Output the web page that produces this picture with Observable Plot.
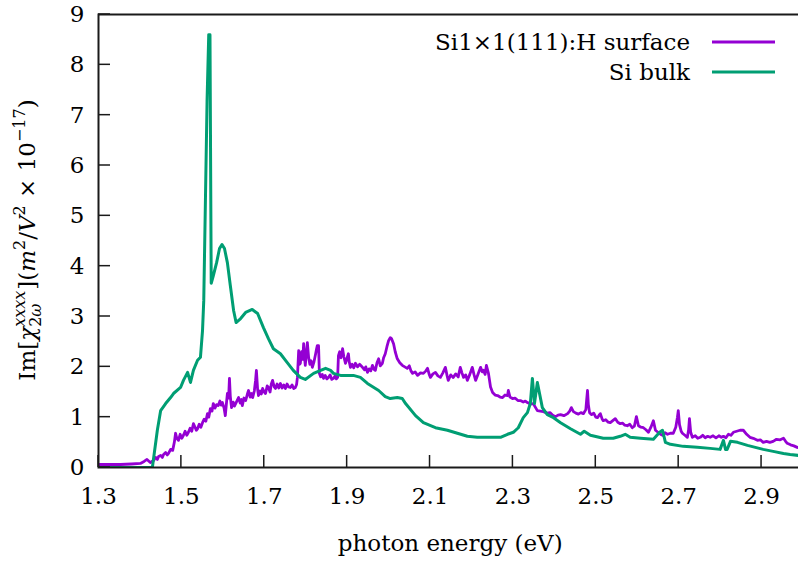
<!DOCTYPE html>
<html><head><meta charset="utf-8">
<script src="https://cdn.jsdelivr.net/npm/d3@7"></script>
<script src="https://cdn.jsdelivr.net/npm/@observablehq/plot@0.6"></script>
<style>body{margin:0;background:#fff} svg{display:block}</style>
</head><body><div id="chart"></div>
<script>
// ---- data ----
const seriesNames = ["Si1×1(111):H surface", "Si bulk"];
const seriesColors = ["#9400d3", "#009e73"];
const xTicks = [1.3, 1.5, 1.7, 1.9, 2.1, 2.3, 2.5, 2.7, 2.9];
const yTicks = [0, 1, 2, 3, 4, 5, 6, 7, 8, 9];
const xLabel = "photon energy (eV)";

const surfaceX = [1.300,1.353,1.380,1.401,1.410,1.417,1.425,1.433,1.438,1.442,1.445,1.450,1.454,1.457,1.462,1.466,1.469,1.474,1.479,1.483,1.486,1.489,1.493,1.497,1.501,1.505,1.509,1.513,1.517,1.521,1.525,1.529,1.533,1.536,1.539,1.543,1.547,1.551,1.555,1.559,1.563,1.566,1.570,1.574,1.577,1.581,1.585,1.589,1.593,1.596,1.599,1.603,1.606,1.609,1.611,1.614,1.616,1.618,1.621,1.625,1.628,1.631,1.635,1.638,1.642,1.645,1.647,1.651,1.655,1.659,1.662,1.666,1.669,1.672,1.676,1.679,1.681,1.684,1.686,1.690,1.693,1.696,1.700,1.703,1.707,1.710,1.714,1.717,1.720,1.724,1.727,1.731,1.735,1.739,1.743,1.747,1.751,1.755,1.759,1.763,1.767,1.771,1.775,1.778,1.780,1.783,1.785,1.787,1.790,1.793,1.795,1.797,1.799,1.802,1.804,1.807,1.810,1.813,1.816,1.820,1.824,1.826,1.828,1.831,1.833,1.836,1.840,1.843,1.847,1.851,1.855,1.859,1.863,1.867,1.871,1.874,1.877,1.879,1.882,1.885,1.889,1.892,1.896,1.899,1.903,1.905,1.908,1.912,1.916,1.920,1.925,1.930,1.937,1.942,1.945,1.949,1.953,1.957,1.961,1.965,1.968,1.972,1.976,1.980,1.985,1.988,1.992,1.996,2.000,2.004,2.007,2.012,2.016,2.021,2.027,2.033,2.039,2.045,2.050,2.054,2.058,2.064,2.070,2.077,2.084,2.090,2.094,2.098,2.101,2.107,2.113,2.119,2.125,2.131,2.137,2.141,2.144,2.150,2.156,2.162,2.168,2.173,2.177,2.181,2.186,2.190,2.196,2.202,2.206,2.210,2.216,2.222,2.226,2.229,2.233,2.236,2.241,2.246,2.251,2.257,2.263,2.269,2.275,2.281,2.287,2.289,2.293,2.299,2.305,2.312,2.318,2.325,2.330,2.335,2.342,2.349,2.354,2.359,2.366,2.374,2.382,2.390,2.396,2.403,2.409,2.415,2.423,2.432,2.437,2.441,2.446,2.452,2.458,2.464,2.470,2.476,2.478,2.480,2.482,2.485,2.490,2.495,2.500,2.504,2.508,2.511,2.515,2.518,2.524,2.530,2.535,2.541,2.547,2.553,2.559,2.565,2.570,2.576,2.582,2.588,2.593,2.598,2.603,2.609,2.615,2.621,2.627,2.633,2.639,2.644,2.650,2.656,2.661,2.667,2.673,2.680,2.687,2.693,2.697,2.699,2.702,2.706,2.709,2.715,2.721,2.724,2.726,2.729,2.733,2.740,2.746,2.752,2.758,2.764,2.770,2.776,2.783,2.790,2.797,2.803,2.808,2.814,2.820,2.826,2.832,2.840,2.848,2.856,2.864,2.872,2.880,2.890,2.897,2.904,2.912,2.920,2.928,2.936,2.945,2.953,2.958,2.962,2.970,2.978,2.986,3.000];
const surfaceY = [0.06,0.06,0.07,0.08,0.12,0.16,0.10,0.14,0.20,0.16,0.22,0.24,0.20,0.26,0.30,0.25,0.28,0.36,0.34,0.50,0.68,0.58,0.54,0.66,0.58,0.64,0.72,0.64,0.70,0.78,0.72,0.87,0.80,0.74,0.77,0.86,0.80,0.89,0.96,0.92,1.07,1.00,1.17,1.12,1.27,1.18,1.25,1.23,1.32,1.24,1.29,1.18,1.03,1.30,1.47,1.38,1.77,1.42,1.19,1.30,1.22,1.27,1.34,1.39,1.28,1.35,1.23,1.38,1.33,1.45,1.53,1.40,1.47,1.39,1.52,1.73,1.93,1.55,1.43,1.52,1.46,1.57,1.50,1.47,1.62,1.59,1.50,1.66,1.73,1.60,1.57,1.66,1.58,1.67,1.58,1.64,1.57,1.66,1.60,1.59,1.64,1.57,1.59,1.65,1.79,2.32,2.05,2.07,2.30,2.15,2.46,2.20,2.03,2.30,2.48,2.19,2.05,2.12,1.99,2.10,2.26,2.35,2.42,2.42,1.87,1.80,1.85,1.77,1.83,1.76,1.79,1.84,1.75,1.77,1.82,1.76,1.79,2.22,2.30,2.18,2.36,2.20,2.07,2.15,2.26,2.10,1.99,2.05,1.98,2.07,2.00,2.05,1.99,1.94,2.00,1.89,1.96,1.92,2.03,1.95,1.93,2.08,2.16,2.02,2.07,2.18,2.26,2.40,2.52,2.58,2.56,2.46,2.30,2.16,2.08,2.03,2.00,1.97,2.02,1.92,1.87,1.90,1.83,1.88,1.87,1.92,1.97,1.85,1.79,1.86,1.89,1.82,1.79,1.88,1.99,1.83,1.73,1.84,1.79,1.86,1.80,1.99,1.88,1.79,1.84,1.73,1.85,1.99,1.85,1.73,1.86,1.99,1.90,1.93,1.85,2.03,1.87,1.60,1.49,1.44,1.43,1.40,1.39,1.44,1.43,1.53,1.40,1.37,1.38,1.33,1.33,1.30,1.32,1.29,1.26,1.27,1.20,1.13,1.12,1.11,1.08,1.09,1.04,1.01,1.04,1.05,1.03,1.07,1.12,1.19,1.11,1.08,1.06,1.09,1.07,1.15,1.35,1.53,1.25,1.09,1.05,1.08,1.00,0.99,1.04,1.07,0.97,0.93,0.95,0.90,0.89,0.93,0.97,0.90,0.87,0.88,0.84,0.83,0.86,0.79,0.82,1.01,0.83,0.80,0.79,0.75,0.70,0.80,0.93,0.74,0.70,0.66,0.64,0.69,0.66,0.68,0.68,0.80,1.00,1.13,0.85,0.72,0.68,0.64,0.60,0.75,0.97,0.70,0.60,0.63,0.58,0.60,0.64,0.59,0.62,0.60,0.63,0.59,0.63,0.60,0.62,0.59,0.66,0.64,0.70,0.72,0.74,0.74,0.66,0.60,0.58,0.54,0.55,0.50,0.52,0.50,0.52,0.56,0.55,0.58,0.52,0.48,0.45,0.43,0.40,0.38];

const bulkX = [1.300,1.425,1.430,1.442,1.450,1.462,1.474,1.481,1.498,1.505,1.515,1.522,1.529,1.539,1.546,1.551,1.554,1.558,1.562,1.566,1.569,1.572,1.577,1.585,1.592,1.598,1.604,1.611,1.618,1.626,1.632,1.643,1.655,1.671,1.684,1.698,1.710,1.722,1.739,1.755,1.770,1.787,1.799,1.819,1.836,1.848,1.860,1.867,1.884,1.915,1.932,1.949,1.976,1.992,2.004,2.021,2.033,2.041,2.065,2.084,2.113,2.142,2.166,2.190,2.214,2.238,2.270,2.287,2.301,2.313,2.325,2.335,2.342,2.347,2.352,2.359,2.371,2.383,2.398,2.415,2.439,2.463,2.472,2.487,2.518,2.542,2.559,2.571,2.583,2.608,2.639,2.654,2.661,2.668,2.680,2.711,2.745,2.776,2.800,2.808,2.813,2.817,2.825,2.842,2.866,2.904,2.928,2.953,2.969,2.989,3.000];
const bulkY = [0,0,0,0.74,1.13,1.27,1.39,1.47,1.59,1.73,1.89,1.69,1.93,2.13,2.19,2.72,3.32,5.30,7.29,8.60,8.60,3.66,3.81,4.07,4.35,4.43,4.35,4.07,3.62,3.12,2.88,2.96,3.08,3.14,3.06,2.78,2.56,2.36,2.26,2.09,1.93,1.79,1.75,1.87,1.93,1.97,1.93,1.87,1.83,1.83,1.79,1.67,1.53,1.41,1.37,1.39,1.37,1.27,1.03,0.89,0.79,0.74,0.68,0.62,0.60,0.60,0.60,0.66,0.70,0.79,0.99,1.09,1.27,1.77,1.27,1.69,1.19,1.05,0.99,0.89,0.77,0.66,0.72,0.64,0.58,0.58,0.62,0.66,0.60,0.58,0.56,0.70,0.74,0.50,0.46,0.42,0.40,0.38,0.36,0.54,0.36,0.36,0.52,0.50,0.44,0.36,0.32,0.28,0.26,0.24,0.24];

const surface = surfaceX.map((x, i) => ({x, y: surfaceY[i]}));
const bulk = bulkX.map((x, i) => ({x, y: bulkY[i]}));

const FONT = "'DejaVu Serif', 'Liberation Serif', serif";
const FS = 23;
const SFS = 16;
const fmt = d => d.toFixed(1);

const plot = Plot.plot({
  width: 798, height: 561,
  marginLeft: 98, marginRight: -4.5, marginTop: 14, marginBottom: 94,
  style: {fontFamily: FONT, fontSize: FS + "px", background: "white", color: "#000", overflow: "hidden"},
  x: {domain: [1.3, 3.0], label: null},
  y: {domain: [0, 9], label: null},
  marks: [
    Plot.axisX({ticks: xTicks, tickSize: 0, tickPadding: 20, tickFormat: fmt, label: null, fontSize: FS}),
    Plot.axisY({ticks: yTicks, tickSize: 0, tickPadding: 14, label: null, fontSize: FS}),
    Plot.line(surface, {x: "x", y: "y", stroke: seriesColors[0], strokeWidth: 2.8, clip: true}),
    Plot.line(bulk, {x: "x", y: "y", stroke: seriesColors[1], strokeWidth: 3, clip: true}),
    Plot.frame({stroke: "#1a1a1a", strokeWidth: 2})
  ]
});
document.getElementById("chart").appendChild(plot);

const svg = d3.select(plot);
const sx = plot.scale("x"), sy = plot.scale("y");
const x0 = sx.apply(1.3), y0 = sy.apply(0);
const tk = svg.append("g").attr("stroke", "#1a1a1a").attr("stroke-width", 1.5);
xTicks.forEach(t => tk.append("line").attr("x1", sx.apply(t)).attr("x2", sx.apply(t)).attr("y1", y0).attr("y2", y0 - 12));
yTicks.forEach(t => tk.append("line").attr("x1", x0).attr("x2", x0 + 12).attr("y1", sy.apply(t)).attr("y2", sy.apply(t)));

// x axis label
svg.append("text").attr("x", (sx.apply(1.3) + sx.apply(3.0)) / 2).attr("y", 551)
  .attr("text-anchor", "middle").attr("font-family", FONT).attr("font-size", FS).text(xLabel);

// y axis label with math
const yl = svg.append("text").attr("transform", "translate(35,240) rotate(-90)")
  .attr("text-anchor", "middle").attr("font-family", FONT).attr("font-size", FS);
yl.append("tspan").text("Im[");
yl.append("tspan").attr("font-style", "italic").text("χ");
const sub = yl.append("tspan").attr("font-size", SFS).attr("dy", 6).text("2");
const sub2 = yl.append("tspan").attr("font-size", SFS).attr("font-style", "italic").text("ω");
const subW = sub.node().getComputedTextLength() + sub2.node().getComputedTextLength();
const sup = yl.append("tspan").attr("font-size", SFS).attr("font-style", "italic").attr("dx", -subW).attr("dy", -16).text("xxxx");
const supW = sup.node().getComputedTextLength();
yl.append("tspan").attr("dy", 10).attr("dx", Math.max(0, subW - supW) + 1).text("](");
yl.append("tspan").attr("font-style", "italic").text("m");
yl.append("tspan").attr("font-size", SFS).attr("dy", -10).text("2");
yl.append("tspan").attr("dy", 10).text("/");
yl.append("tspan").attr("font-style", "italic").text("V");
yl.append("tspan").attr("font-size", SFS).attr("dy", -10).text("2");
yl.append("tspan").attr("dy", 10).text(" × 10");
yl.append("tspan").attr("font-size", SFS).attr("dy", -10).text("−17");
yl.append("tspan").attr("dy", 10).text(")");

// legend
const lg = svg.append("g");
seriesNames.forEach((name, i) => {
  const yy = 42 + i * 30;
  lg.append("text").attr("x", 690).attr("y", yy).attr("dy", "0.35em").attr("text-anchor", "end")
    .attr("font-family", FONT).attr("font-size", FS).text(name);
  lg.append("line").attr("x1", 712).attr("x2", 775).attr("y1", yy).attr("y2", yy)
    .attr("stroke", seriesColors[i]).attr("stroke-width", 3);
});
</script></body></html>
